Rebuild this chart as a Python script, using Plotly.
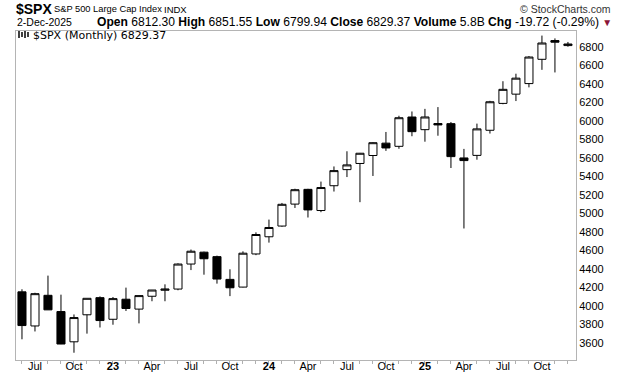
import plotly.graph_objects as go

months = ["2022-06","2022-07","2022-08","2022-09","2022-10","2022-11","2022-12",
          "2023-01","2023-02","2023-03","2023-04","2023-05","2023-06","2023-07","2023-08","2023-09","2023-10","2023-11","2023-12",
          "2024-01","2024-02","2024-03","2024-04","2024-05","2024-06","2024-07","2024-08","2024-09","2024-10","2024-11","2024-12",
          "2025-01","2025-02","2025-03","2025-04","2025-05","2025-06","2025-07","2025-08","2025-09","2025-10","2025-11","2025-12"]
opens = [4149.78,3781.00,4112.38,3936.73,3609.78,3901.79,4087.14,
         3853.29,4070.07,3963.34,4102.20,4166.79,4180.12,4450.48,4578.83,4530.60,4284.52,4201.27,4559.43,
         4745.20,4861.11,5098.51,5257.97,5029.03,5297.15,5471.08,5537.84,5623.89,5757.73,5723.22,6040.11,
         5903.26,5969.65,5968.33,5597.53,5625.14,5896.68,6187.25,6287.28,6401.51,6664.00,6866.50,6812.30]
highs = [4177.51,4140.15,4325.28,4119.28,3905.42,4080.11,4100.96,
         4094.21,4195.44,4110.75,4170.06,4231.10,4458.48,4607.07,4584.62,4541.25,4393.57,4587.64,4793.30,
         4931.09,5111.06,5264.85,5263.95,5341.88,5505.53,5669.67,5651.62,5767.37,5878.46,6053.58,6099.97,
         6128.18,6147.43,5986.09,5695.31,5968.61,6215.08,6427.02,6508.23,6699.52,6920.34,6890.00,6851.55]
lows = [3636.87,3721.56,3954.53,3584.13,3491.58,3698.15,3764.49,
        3794.33,3943.08,3808.86,4048.28,4048.28,4166.89,4385.05,4335.31,4238.63,4103.78,4197.74,4546.50,
        4682.11,4853.52,5056.82,4953.56,5011.05,5234.32,5390.95,5119.26,5402.62,5674.00,5696.51,5832.30,
        5773.31,5837.66,5488.73,4835.04,5578.64,5861.43,6177.97,6212.69,6360.58,6550.22,6521.92,6799.94]
closes = [3785.38,4130.29,3955.00,3585.62,3871.98,4080.11,3839.50,
          4076.60,3970.15,4109.31,4169.48,4179.83,4450.38,4588.96,4507.66,4288.05,4193.80,4567.80,4769.83,
          4845.65,5096.27,5254.35,5035.69,5277.51,5460.48,5522.30,5648.40,5762.48,5705.45,6032.38,5881.63,
          6040.53,5954.50,5611.85,5569.06,5911.69,6204.95,6339.39,6460.26,6688.46,6840.20,6849.09,6829.37]

x_tick_labels = {"2022-07":"Jul","2022-10":"Oct","2023-01":"<b>23</b>","2023-04":"Apr","2023-07":"Jul",
                 "2023-10":"Oct","2024-01":"<b>24</b>","2024-04":"Apr","2024-07":"Jul","2024-10":"Oct",
                 "2025-01":"<b>25</b>","2025-04":"Apr","2025-07":"Jul","2025-10":"Oct"}
y_ticks = list(range(3600, 6801, 200))

idx = list(range(len(months)))
fig = go.Figure()
fig.add_trace(go.Candlestick(
    x=idx, open=opens, high=highs, low=lows, close=closes,
    increasing=dict(line=dict(color="black", width=1), fillcolor="white"),
    decreasing=dict(line=dict(color="black", width=1), fillcolor="black"),
    whiskerwidth=0, showlegend=False, hoverinfo="skip"))

W, H = 620, 376
L, R, T, B = 16, 576, 31, 360

def px(xp):
    return (xp - L) / (R - L)

def py(yp):
    return (B - yp) / (B - T)

fnt = "Liberation Sans, Arial, sans-serif"
fig.update_layout(
    width=W, height=H,
    margin=dict(l=L, r=W - R, t=T, b=H - B),
    paper_bgcolor="white", plot_bgcolor="white",
    font=dict(family=fnt, size=11, color="black"),
    xaxis=dict(range=[-0.46, len(months) - 0.38], tickmode="array", tickvals=idx,
               ticktext=[x_tick_labels.get(m, "") for m in months],
               ticks="outside", ticklen=3, tickcolor="#b0b0b0", showgrid=False,
               showline=True, linecolor="#b4b4b4", linewidth=1, mirror=True,
               rangeslider=dict(visible=False), zeroline=False, automargin=False,
               ticklabelstandoff=-7,
               tickfont=dict(size=11, family=fnt, color="black")),
    yaxis=dict(range=[3413, 6970], side="right", tickmode="array", tickvals=y_ticks,
               ticks="", showgrid=False, showline=True, linecolor="#b4b4b4", linewidth=1, mirror=True,
               zeroline=False, automargin=False, tickfont=dict(size=11, family=fnt, color="black")),
    boxgap=0.38, boxgroupgap=0,
)

ann = [
    dict(x=px(14), y=py(9.5), text="<b>$SPX</b>", font=dict(size=14), xanchor="left"),
    dict(x=px(52), y=py(9.5), text="S&P 500 Large Cap Index", font=dict(size=9.3), xanchor="left"),
    dict(x=px(162), y=py(9.5), text="INDX", font=dict(size=9.5), xanchor="left"),
    dict(x=px(613), y=py(9), text="© StockCharts.com", font=dict(size=10.5, color="#333333"), xanchor="right"),
    dict(x=px(15), y=py(22.5), text="2-Dec-2025", font=dict(size=10.5), xanchor="left"),
    dict(x=px(614), y=py(22.5),
         text="<b>Open</b> 6812.30 <b>High</b> 6851.55 <b>Low</b> 6799.94 <b>Close</b> 6829.37 "
              "<b>Volume</b> 5.8B <b>Chg</b> -19.72 (-0.29%) <span style='color:#8b1538;font-size:10px'>▼</span>",
         font=dict(size=12.1), xanchor="right"),
    dict(x=px(31), y=py(35), text="$SPX (Monthly) 6829.37", font=dict(size=11, family="DejaVu Sans, sans-serif"), xanchor="left"),
]
for a in ann:
    a.update(xref="paper", yref="paper", showarrow=False, yanchor="middle")
fig.update_layout(annotations=ann)

# small chart-type icon before the legend text
icon = []
for x0, y0, y1 in [(19, 31, 38), (22, 32, 37), (25, 31, 38), (28, 32, 37)]:
    icon.append(dict(type="line", xref="paper", yref="paper", x0=px(x0), x1=px(x0),
                     y0=py(y0), y1=py(y1), line=dict(color="black", width=1.5)))
fig.update_layout(shapes=icon)

fig.write_html("out.html", config={"displayModeBar": False},
               post_script="document.body.style.margin='0px';document.body.style.padding='0px';")
